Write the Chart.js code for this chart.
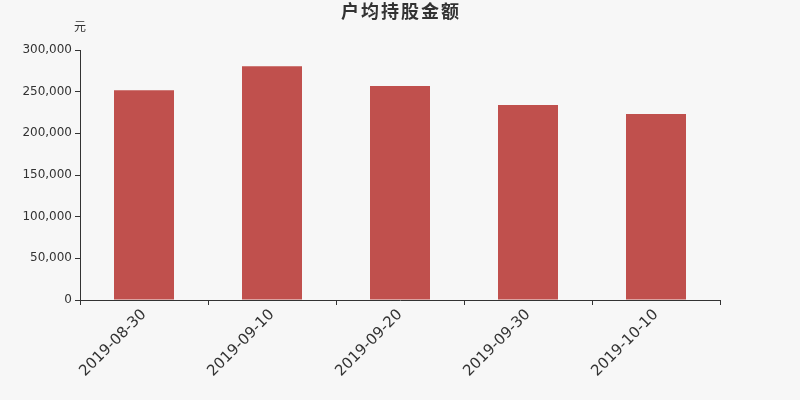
<!DOCTYPE html>
<html>
<head>
<meta charset="utf-8">
<script src="https://cdn.jsdelivr.net/npm/chart.js@4/dist/chart.umd.min.js"></script>
<style>
  html, body { margin: 0; padding: 0; background: #f7f7f7; }
  #wrap { width: 800px; height: 400px; }
</style>
</head>
<body>
<div id="wrap"><canvas id="chart" width="800" height="400"></canvas></div>
<script>
// chart data
const dates = ['2019-08-30', '2019-09-10', '2019-09-20', '2019-09-30', '2019-10-10'];
const avgHolding = [251600, 280400, 256800, 234000, 223200];
const yTicks = [0, 50000, 100000, 150000, 200000, 250000, 300000];

const FONT = '"DejaVu Sans", "Noto Sans CJK SC", sans-serif';

// title centred on the whole canvas and the unit label above the y axis
const headerText = {
    id: 'headerText',
    afterDraw(chart) {
        const ctx = chart.ctx;
        const y = chart.scales.y;
        ctx.save();
        ctx.fillStyle = '#333';
        ctx.textBaseline = 'middle';

        ctx.font = 'bold 18px ' + FONT;
        ctx.letterSpacing = '2px';
        ctx.textAlign = 'center';
        ctx.fillText('户均持股金额', chart.width / 2 + 1, 13);

        ctx.letterSpacing = '0px';
        ctx.font = '12px ' + FONT;
        ctx.fillText('元', y.right, 28);
        ctx.restore();
    }
};

new Chart(document.getElementById('chart'), {
    type: 'bar',
    data: {
        labels: dates,
        datasets: [{
            data: avgHolding,
            backgroundColor: '#c0504d',
            borderWidth: 0,
            barPercentage: 60 / 128,
            categoryPercentage: 1
        }]
    },
    options: {
        responsive: false,
        animation: false,
        devicePixelRatio: 1,
        layout: { padding: { left: 0, right: 80, top: 50, bottom: 0 } },
        plugins: {
            legend: { display: false },
            tooltip: { enabled: false },
            title: { display: false }
        },
        scales: {
            x: {
                grid: {
                    display: true,
                    drawOnChartArea: false,
                    drawTicks: true,
                    tickLength: 5,
                    color: '#333',
                    offset: true
                },
                border: { display: true, color: '#333', width: 1 },
                ticks: {
                    color: '#333',
                    font: { family: FONT, size: 15 },
                    minRotation: 45,
                    maxRotation: 45,
                    padding: 1
                },
                afterFit(scale) { scale.height = 100; }
            },
            y: {
                min: 0,
                max: 300000,
                afterBuildTicks(scale) {
                    scale.ticks = yTicks.map(v => ({ value: v }));
                },
                grid: {
                    display: true,
                    drawOnChartArea: false,
                    drawTicks: true,
                    tickLength: 5,
                    color: '#333'
                },
                border: { display: true, color: '#333', width: 1 },
                ticks: {
                    color: '#333',
                    font: { family: FONT, size: 12 },
                    padding: 3,
                    callback: v => v.toLocaleString('en-US')
                },
                afterFit(scale) { scale.width = 80; }
            }
        }
    },
    plugins: [headerText]
});
</script>
</body>
</html>
